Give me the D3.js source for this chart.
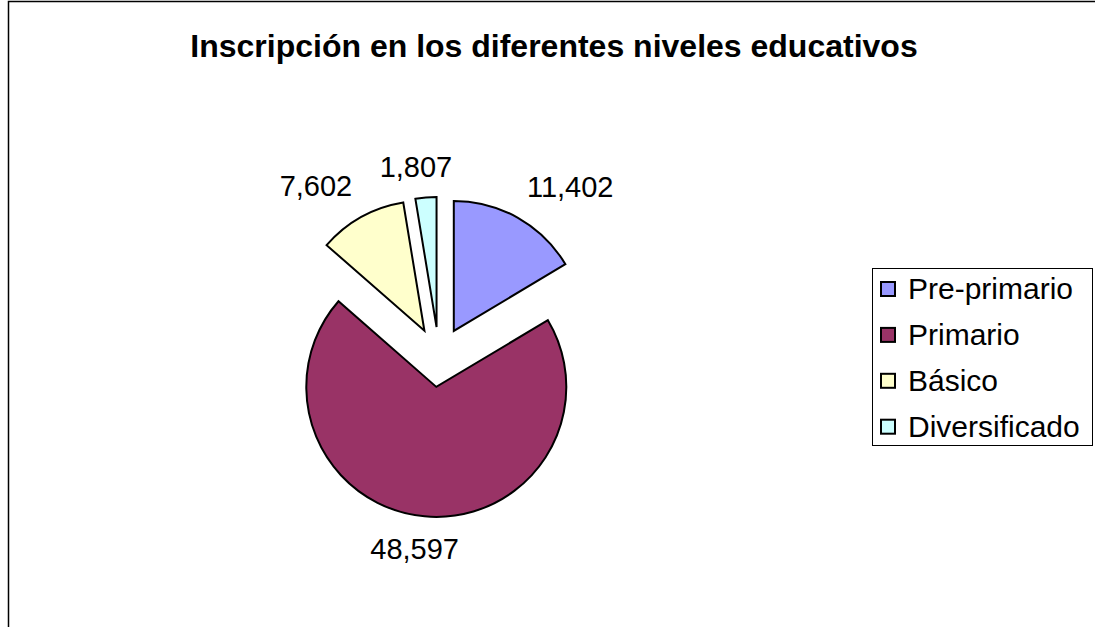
<!DOCTYPE html>
<html>
<head>
<meta charset="utf-8">
<script src="https://cdn.jsdelivr.net/npm/d3@7"></script>
<style>
  body { margin: 0; background: #fff; }
  svg { font-family: "Liberation Sans", Arial, sans-serif; }
</style>
</head>
<body>
<div id="viz"></div>
<script>
// Datos del gráfico
let niveles = ['Pre-primario', 'Primario', 'Básico', 'Diversificado'];
let inscritos = [11402, 48597, 7602, 1807];
let colores = ['#9999FF', '#993366', '#FFFFCC', '#CCFFFF'];

let w = 1095;
let h = 627;

// Centro y tamaño del pastel
let cx = 439;
let cy = 357;
let r = 130;
let explosion = 30;

let svg = d3.select('#viz')
    .append('svg')
        .attr('width', w)
        .attr('height', h);

// Borde del área del gráfico (sale de la ventana por derecha y abajo)
svg.append('rect')
    .attr('x', 8.5)
    .attr('y', 1.5)
    .attr('width', w + 20)
    .attr('height', h + 20)
    .attr('fill', 'white')
    .attr('stroke', 'black')
    .attr('stroke-width', 1.5);

svg.append('text')
    .attr('x', 554)
    .attr('y', 57)
    .attr('text-anchor', 'middle')
    .style('font-size', '32px')
    .style('font-weight', 'bold')
    .text('Inscripción en los diferentes niveles educativos');

let datos = niveles.map((n, i) => ({ nivel: n, valor: inscritos[i], color: colores[i] }));

let pie = d3.pie()
    .sort(null)
    .value(d => d.valor);

let arc = d3.arc()
    .innerRadius(0)
    .outerRadius(r);

let arcos = pie(datos);

// Desplazamiento de cada porción hacia afuera
function direccion(d) {
    let a = (d.startAngle + d.endAngle) / 2;
    return [Math.sin(a), -Math.cos(a)];
}

let g = svg.append('g')
    .attr('transform', `translate(${cx},${cy})`);

g.selectAll('path')
    .data(arcos)
    .enter()
    .append('path')
        .attr('d', arc)
        .attr('fill', d => d.data.color)
        .attr('stroke', 'black')
        .attr('stroke-width', 2)
        .attr('stroke-linejoin', 'miter')
        .attr('transform', d => {
            let [dx, dy] = direccion(d);
            return `translate(${dx * explosion},${dy * explosion})`;
        });

// Etiquetas de valores, fuera del borde de cada porción
let formato = d3.format(',');
g.selectAll('text.valor')
    .data(arcos)
    .enter()
    .append('text')
        .attr('class', 'valor')
        .style('font-size', '29px')
        .attr('text-anchor', d => {
            let [dx] = direccion(d);
            return dx > 0.3 ? 'start' : (dx < -0.3 ? 'end' : 'middle');
        })
        .attr('x', d => {
            let [dx] = direccion(d);
            let px = dx * (explosion + r);
            return dx > 0.3 ? px + 9 : (dx < -0.3 ? px - 9 : px - 10);
        })
        .attr('y', d => {
            let [, dy] = direccion(d);
            let py = dy * (explosion + r);
            return dy < 0 ? py - 21 : py + 43;
        })
        .text(d => formato(d.data.valor));

// Leyenda
let leyenda = svg.append('g')
    .attr('transform', 'translate(872,268)');

leyenda.append('rect')
    .attr('x', 0.5)
    .attr('y', 0.5)
    .attr('width', 220)
    .attr('height', 177)
    .attr('fill', 'white')
    .attr('stroke', 'black')
    .attr('stroke-width', 1);

let filas = leyenda.selectAll('g.fila')
    .data(datos)
    .enter()
    .append('g')
        .attr('class', 'fila')
        .attr('transform', (d, i) => `translate(0,${21 + i * 45.9})`);

filas.append('rect')
    .attr('x', 9)
    .attr('y', -7)
    .attr('width', 14)
    .attr('height', 14)
    .attr('fill', d => d.color)
    .attr('stroke', 'black')
    .attr('stroke-width', 2);

filas.append('text')
    .attr('x', 36)
    .attr('y', 10)
    .style('font-size', '30px')
    .text(d => d.nivel);
</script>
</body>
</html>
